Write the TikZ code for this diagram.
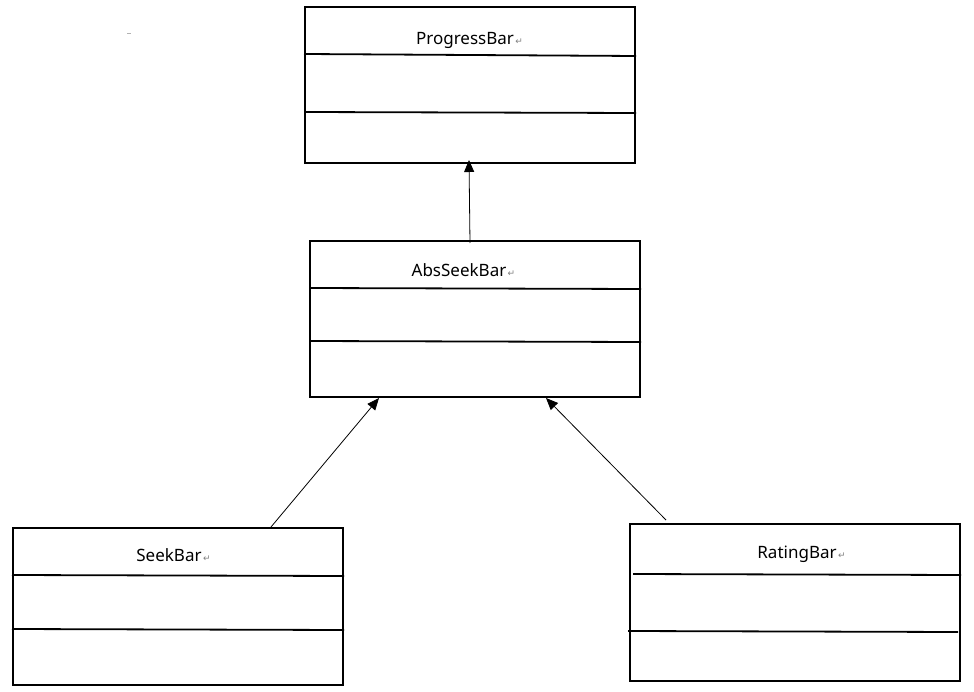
\documentclass[tikz,border=0pt]{standalone}
\usepackage{fontspec}
\setmainfont{Noto Sans}
\newfontfamily\symfont{DejaVu Sans}
\usetikzlibrary{arrows.meta}
\tikzset{
  classbox/.style={draw=black, line width=2pt, minimum width=330pt, minimum height=156pt, inner sep=0pt, fill=white},
  divider/.style={draw=black, line width=1.8pt},
  label/.style={font=\fontsize{17}{19}\selectfont, inner sep=0pt, anchor=base},
  inherit/.style={draw=black, line width=0.8pt, -{Triangle[length=12pt,width=10pt]}},
  rmark/.style={font=\symfont\fontsize{9}{10}\selectfont, text=gray, inner sep=0pt, anchor=base west}
}
\begin{document}
\begin{tikzpicture}[x=1pt,y=-1pt]
\useasboundingbox (0,0) rectangle (974,692);
\fill[white] (0,0) rectangle (974,692);
% stray marks
\draw[gray!60, line width=0.8pt] (127,33) -- (131,33);
% ProgressBar
\node[classbox] (pb) at (470,85) {};
\draw[divider] (pb.west |- 0,54) -- (pb.east |- 0,56);
\draw[divider] (pb.west |- 0,112) -- (pb.east |- 0,113);
\node[label] (pbt) at (465,45) {ProgressBar};
\node[rmark] at ([xshift=1pt]pbt.base east) {↵};
% AbsSeekBar
\node[classbox] (ab) at (475,319) {};
\draw[divider] (ab.west |- 0,288) -- (ab.east |- 0,289);
\draw[divider] (ab.west |- 0,341) -- (ab.east |- 0,342);
\node[label] (abt) at (459,277) {AbsSeekBar};
\node[rmark] at ([xshift=1pt]abt.base east) {↵};
% SeekBar
\node[classbox, minimum height=157pt] (sb) at (178,606.5) {};
\draw[divider] (sb.west |- 0,575) -- (sb.east |- 0,576);
\draw[divider] (sb.west |- 0,629) -- (sb.east |- 0,630);
\node[label] (sbt) at (169,561) {SeekBar};
\node[rmark] at ([xshift=1pt]sbt.base east) {↵};
% RatingBar
\node[classbox, minimum height=157pt] (rb) at (795,602.5) {};
\draw[divider] (633,574) -- (rb.east |- 0,575);
\draw[divider] (628,631) -- (958,632);
\node[label] (rbt) at (797,558) {RatingBar};
\node[rmark] at ([xshift=1pt]rbt.base east) {↵};
% connectors
\coordinate (pbtip) at (469,160);
\coordinate (abtail) at (470,243);
\draw[inherit] (abtail) -- (pbtip);
\coordinate (sbtail) at (271,527);
\coordinate (ab1) at (379,398);
\draw[inherit] (sbtail) -- (ab1);
\coordinate (rbtail) at (666,520);
\coordinate (ab2) at (546,398);
\draw[inherit] (rbtail) -- (ab2);
\end{tikzpicture}
\end{document}
